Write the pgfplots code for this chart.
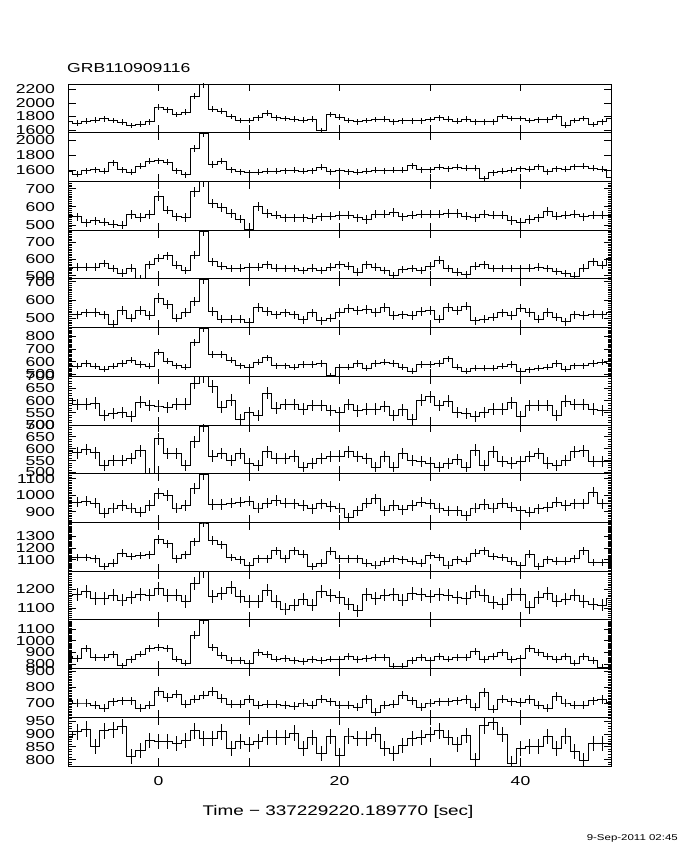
\documentclass[border=0pt]{standalone}
\usepackage{fontspec}
\setmainfont{Liberation Sans}[FakeStretch=1.35]
\usepackage{pgfplots}
\usepackage{pgfplotstable}
\pgfplotsset{compat=1.18}

% count rates per 1 s bin, one column per detector
\pgfplotstableread{
t   b0   b1   n0  n1  n2  n3  n4  n5  n6   n7   n8   n9   na  nb
-10 1720 1585 555 542 519 570 608 591 958  1118 1170 866  714 885
-9  1700 1550 545 552 519 565 584 583 958  1118 1174 848  700 908
-8  1730 1595 513 552 530 586 586 597 964  1118 1188 930  700 919
-7  1745 1605 523 552 533 565 590 583 952  1106 1152 857  687 852
-6  1765 1590 517 573 519 543 538 530 891  1038 1152 857  666 912
-5  1740 1700 504 542 469 565 546 549 923  1068 1170 878  708 916
-4  1715 1605 498 515 543 586 552 549 938  1156 1143 784  714 929
-3  1665 1570 557 546 500 612 536 559 923  1126 1156 836  714 812
-2  1690 1650 542 482 543 578 594 591 897  1135 1174 886  666 836
-1  1720 1720 557 566 515 565 580 498 938  1141 1170 930  687 876
0   1940 1725 659 604 611 676 578 643 1009 1273 1206 945  771 872
1   1900 1710 583 620 576 604 572 580 998  1235 1166 930  735 872
2   1830 1595 545 562 500 570 586 580 923  1106 1170 842  756 863
3   1860 1540 542 531 533 559 586 530 938  1141 1134 807  694 876
4   2100 1890 683 624 593 750 672 629 1039 1253 1233 1048 725 912
5   2275 2090 738 770 712 862 698 696 1126 1415 1296 1175 750 881
6   1910 1675 621 583 537 658 658 569 944  1265 1161 945  771 881
7   1880 1720 598 558 496 658 574 580 944  1229 1179 872  729 908
8   1800 1605 565 542 496 612 602 549 952  1118 1210 828  694 845
9   1740 1580 532 546 496 570 521 580 958  1097 1161 828  694 872
10  1740 1565 478 552 478 559 552 537 964  1047 1134 807  725 859
11  1780 1570 600 552 561 596 538 530 923  1106 1134 901  687 872
12  1850 1590 565 566 537 631 630 587 952  1106 1197 878  694 885
13  1780 1590 555 546 519 570 570 559 968  1176 1134 842  694 885
14  1770 1595 540 542 530 570 584 559 952  1106 1094 848  687 885
15  1760 1600 540 542 519 559 584 569 948  1176 1116 828  679 903
16  1745 1590 540 531 493 578 566 523 938  1147 1148 819  700 845
17  1760 1595 535 546 530 578 580 537 918  1038 1116 836  687 885
18  1590 1640 545 531 487 586 580 559 948  1068 1188 828  725 823
19  1830 1580 550 552 500 490 560 566 932  1170 1166 842  708 889
20  1790 1595 553 566 533 559 552 569 923  1106 1156 836  687 815
21  1740 1580 555 558 552 559 584 587 866  1106 1120 866  687 892
22  1720 1570 540 521 543 586 558 566 907  1106 1084 836  673 881
23  1740 1590 530 566 548 551 565 559 952  1068 1174 848  721 881
24  1755 1600 560 552 533 586 565 523 978  1053 1152 857  641 899
25  1760 1595 560 531 561 596 576 566 907  1088 1170 857  687 845
26  1720 1600 570 501 515 586 538 523 938  1106 1174 778  694 823
27  1735 1600 545 537 519 559 562 580 912  1097 1143 778  750 855
28  1735 1660 555 542 515 525 524 549 938  1088 1179 828  714 881
29  1735 1605 560 531 537 578 602 545 958  1068 1174 857  673 885
30  1755 1605 560 558 543 578 616 540 948  1135 1161 828  700 899
31  1780 1640 560 593 496 586 580 523 923  1118 1174 866  708 912
32  1760 1620 565 542 561 623 598 537 907  1053 1170 842  708 885
33  1730 1640 565 521 543 559 552 554 907  1097 1156 857  714 859
34  1760 1630 550 505 567 525 546 523 877  1088 1152 857  721 895
35  1720 1630 540 558 487 551 535 594 923  1156 1188 907  673 799
36  1720 1490 560 566 496 551 552 530 944  1176 1166 836  767 932
37  1720 1566 555 542 506 551 566 587 923  1126 1130 866  662 945
38  1800 1588 555 542 530 565 566 545 952  1118 1120 901  725 899
39  1770 1600 525 542 515 578 591 540 928  1088 1174 836  708 786
40  1770 1619 515 542 556 525 535 545 907  1047 1174 848  704 845
41  1740 1610 530 546 533 538 580 566 897  1147 1102 936  721 852
42  1750 1646 540 552 496 551 580 580 918  1038 1156 901  687 852
43  1750 1580 575 542 533 559 580 540 928  1097 1179 866  666 889
44  1800 1620 550 525 506 586 538 530 958  1088 1138 836  742 845
45  1670 1610 555 511 481 543 598 549 938  1088 1148 866  700 892
46  1740 1646 560 497 519 570 584 587 948  1106 1170 807  687 832
47  1770 1650 545 546 515 570 584 591 948  1176 1134 866  687 796
48  1680 1630 555 583 524 586 566 545 1019 1076 1120 828  714 863
49  1720 1610 555 562 519 596 560 545 948  1076 1116 769  721 863
50  1770 1500 555 604 530 586 560 545 948  1076 1152 769  704 863
}\rates

\pgfplotsset{
  panel/.style={
    anchor=south west, width=543pt, height=48.714pt, scale only axis,
    xmin=-10, xmax=50, xtick={0,10,20,30,40}, xticklabels={},
    tick align=inside, xtick pos=both, ytick pos=both, yticklabel pos=left,
    major tick length=7.5pt, minor tick length=3.5pt,
    tick style={black, line width=0.8pt},
    axis line style={black, line width=0.8pt},
    scaled y ticks=false,
    /pgf/number format/assume math mode=true,
    /pgf/number format/1000 sep={},
    yticklabel style={anchor=east, inner sep=0pt, xshift=-13pt, font=\fontsize{13}{13}\selectfont},
    xticklabel style={anchor=north, inner sep=0pt, yshift=-10pt, font=\fontsize{13}{13}\selectfont},
  },
  rate/.style={black, line width=0.8pt, const plot mark mid, mark=none,
    error bars/.cd, y dir=both, y explicit, error mark=none,
    error bar style={line width=0.8pt}},
}

% #1 bottom y, #2 detector, #3 ymin, #4 ymax, #5 major ticks, #6 minor tick option, #7 extra
\newcommand\panel[7]{%
  \begin{axis}[panel, at={(68pt,#1pt)}, ymin=#3, ymax=#4, ytick={#5}, #6, #7]
    \addplot[rate] table[x=t, y=#2, y error expr=sqrt(\thisrow{#2})] {\rates};
    \node[anchor=west, inner sep=0pt, xshift=6pt, font=\fontsize{9.5}{9.5}\selectfont]
      at (rel axis cs:1,0.6) {#2};
  \end{axis}}

\begin{document}
\begin{tikzpicture}
\path[use as bounding box] (0,0) rectangle (680pt,850pt);

\panel{717.286}{b0}{1560}{2280}{1600,1800,2000,2200}{minor y tick num=0}{}
\panel{668.571}{b1}{1450}{2100}{1600,1800,2000}{minor y tick num=0}{}
\panel{619.857}{n0}{472}{740}{500,600,700}{minor ytick={480,490,...,740}}{}
\panel{571.143}{n1}{480}{775}{500,600,700}{minor ytick={480,490,...,770}}{}
\panel{522.429}{n2}{450}{715}{500,600,700}{minor ytick={450,460,...,710}}{}
\panel{473.714}{n3}{485}{870}{500,600,700,800}{minor ytick={490,500,...,870}}{}
\panel{425.000}{n4}{500}{700}{500,550,600,650,700}{minor ytick={500,510,...,700}}{}
\panel{376.286}{n5}{495}{700}{500,550,600,650,700}{minor ytick={500,510,...,700}}{}
\panel{327.571}{n6}{836}{1130}{900,1000,1100}{minor ytick={840,850,...,1130}}{}
\panel{278.857}{n7}{1000}{1420}{1100,1200,1300}{minor ytick={1000,1010,...,1420}}{}
\panel{230.143}{n8}{1035}{1300}{1100,1200}{minor ytick={1040,1050,...,1300}}{}
\panel{181.429}{n9}{760}{1180}{800,900,1000,1100}{minor ytick={760,770,...,1180}}{}
\panel{132.714}{na}{610}{917}{700,800,900}{minor ytick={610,620,...,910}}{}
\panel{84.000}{nb}{775}{965}{800,850,900,950}{minor ytick={780,790,...,960}}{xticklabels={0,,20,,40}}

\node[anchor=west, inner sep=0pt, font=\fontsize{13}{13}\selectfont] at (67pt,782pt) {GRB110909116};
\node[inner sep=0pt, font=\fontsize{14}{14}\selectfont] at (338pt,38pt) {Time − 337229220.189770 [sec]};
\node[anchor=east, inner sep=0pt, font=\fontsize{8.5}{8.5}\selectfont] at (678pt,12pt) {9-Sep-2011 02:45};
\end{tikzpicture}
\end{document}
